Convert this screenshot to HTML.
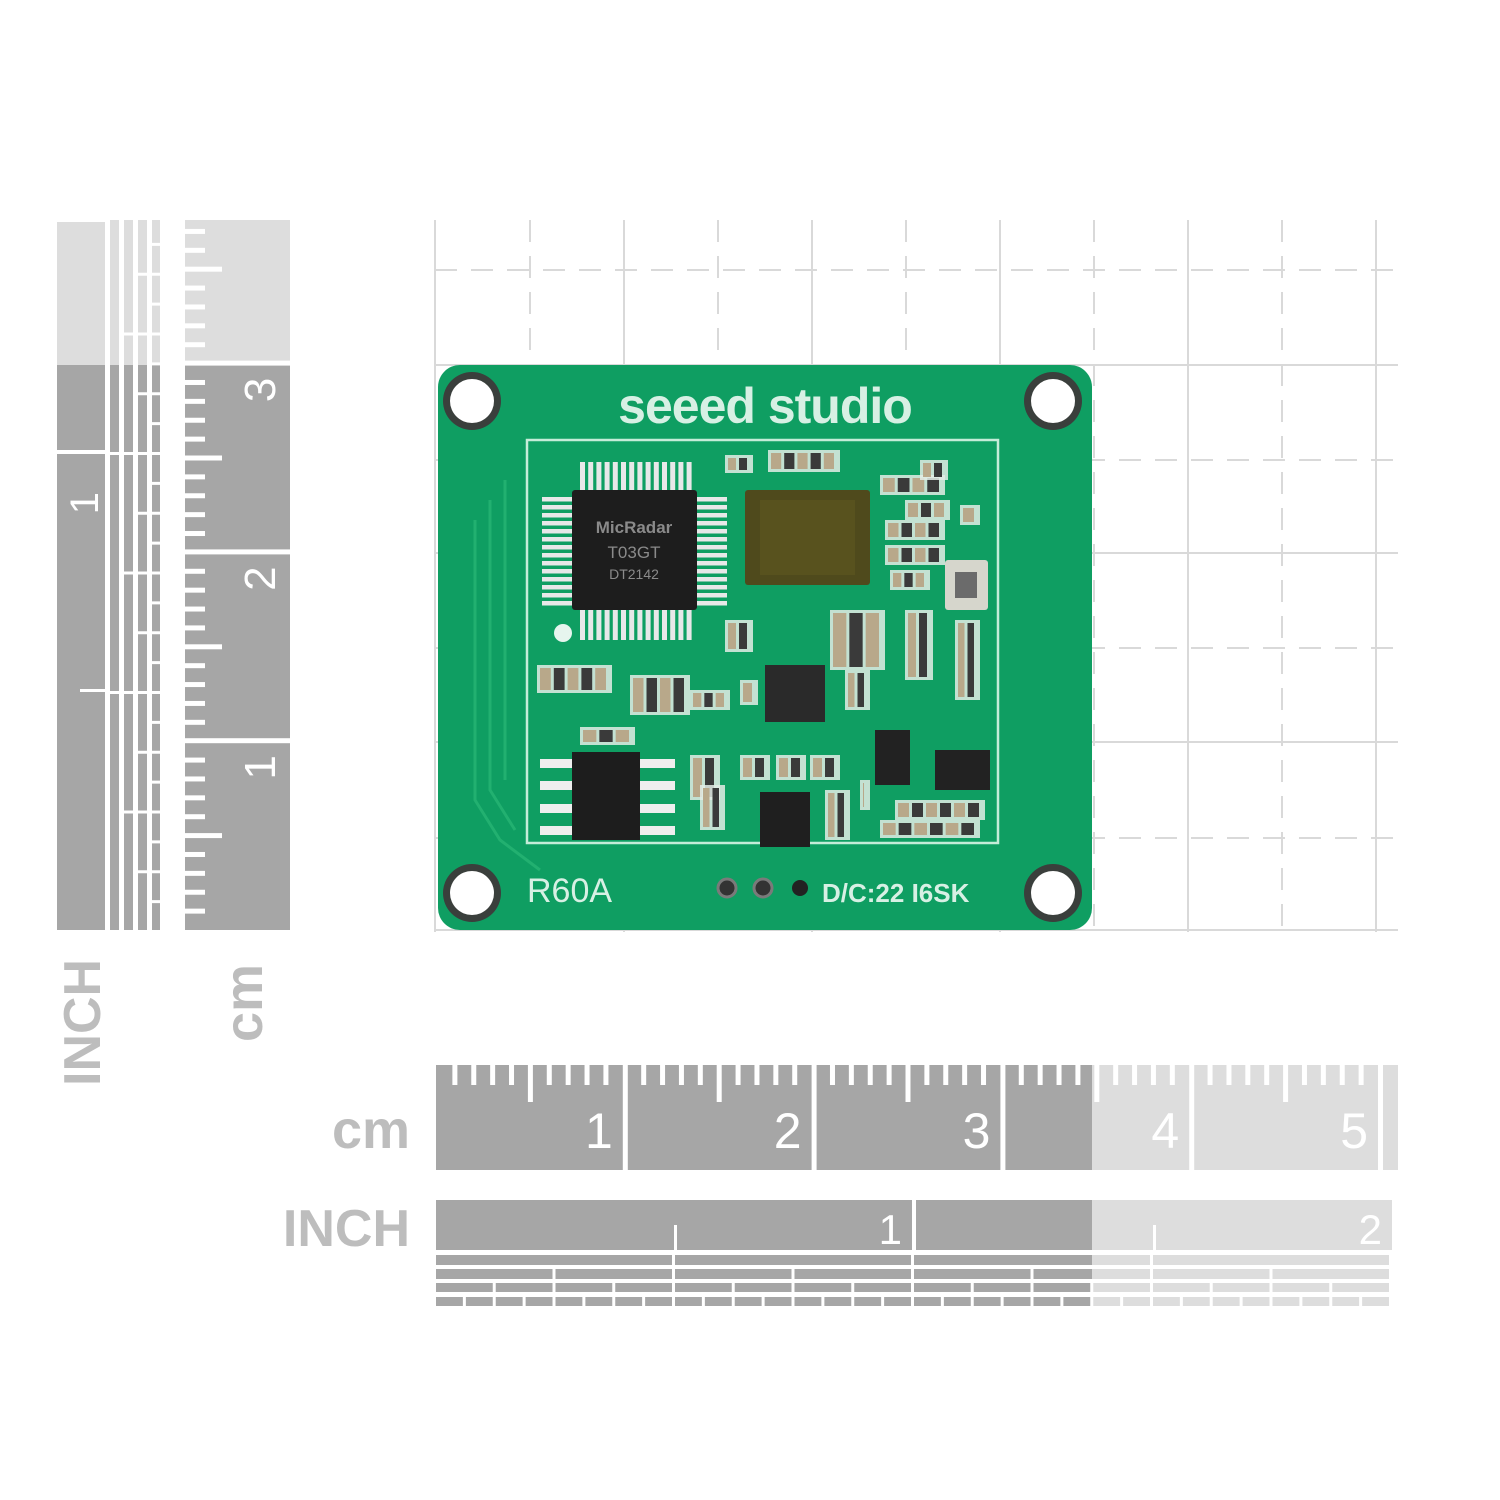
<!DOCTYPE html>
<html><head><meta charset="utf-8"><style>
html,body{margin:0;padding:0;background:#fff}
svg{display:block}
text{font-family:"Liberation Sans","DejaVu Sans",sans-serif}
</style></head><body>
<svg id="s" width="1500" height="1500" viewBox="0 0 1500 1500" xmlns="http://www.w3.org/2000/svg">
<rect width="1500" height="1500" fill="#fff"/>
<g id="grid" stroke="#d9d9d9" stroke-width="2"></g>
<g id="rul"></g>
<text x="410" y="1148" font-size="54" font-weight="bold" fill="#bdbdbd" text-anchor="end">cm</text>
<text x="410" y="1246" font-size="52" font-weight="bold" fill="#bdbdbd" text-anchor="end">INCH</text>
<text transform="translate(100,1086) rotate(-90)" font-size="52" font-weight="bold" fill="#bdbdbd">INCH</text>
<text transform="translate(262,1042) rotate(-90)" font-size="54" font-weight="bold" fill="#bdbdbd">cm</text>
<g id="pcb">
<rect x="438" y="365" width="654" height="565" rx="22" fill="#0f9e62"/>
<path d="M475 520 L475 800 L500 840 L540 870 M490 500 L490 790 L515 830 M505 480 L505 780" stroke="#22b070" stroke-width="3" fill="none"/>
<rect x="527" y="440" width="471" height="403" fill="none" stroke="#c5ecd8" stroke-width="2.5"/>
<text x="765" y="423" font-size="50" font-weight="bold" fill="#d7f0e4" text-anchor="middle" letter-spacing="-1">seeed studio</text>
<g id="holes"></g>
<g id="qfp"></g>
<rect x="572" y="490" width="125" height="120" fill="#1d1d1d" rx="3"/>
<text x="634" y="533" font-size="17" font-weight="bold" fill="#8a8a8a" text-anchor="middle">MicRadar</text>
<text x="634" y="558" font-size="17" fill="#8a8a8a" text-anchor="middle">T03GT</text>
<text x="634" y="579" font-size="14" fill="#8a8a8a" text-anchor="middle">DT2142</text>
<circle cx="563" cy="633" r="9" fill="#e6f5ee"/>
<rect x="745" y="490" width="125" height="95" fill="#4f4a1c" rx="3"/>
<rect x="760" y="500" width="95" height="75" fill="#5d5520" opacity="0.7"/>
<rect x="765" y="665" width="60" height="57" fill="#2a2a2a"/>
<rect x="945" y="560" width="43" height="50" fill="#d6d6cc" rx="3"/>
<rect x="955" y="572" width="22" height="26" fill="#6b6b6b"/>
<g fill="#eee"><rect x="540" y="759" width="35" height="9"/><rect x="540" y="781" width="35" height="9"/><rect x="540" y="804" width="35" height="9"/><rect x="540" y="826" width="35" height="9"/>
<rect x="638" y="759" width="37" height="9"/><rect x="638" y="781" width="37" height="9"/><rect x="638" y="804" width="37" height="9"/><rect x="638" y="826" width="37" height="9"/></g>
<rect x="572" y="752" width="68" height="88" fill="#1d1d1d"/>
<rect x="760" y="792" width="50" height="55" fill="#1f1f1f"/>
<rect x="875" y="730" width="35" height="55" fill="#222"/>
<rect x="935" y="750" width="55" height="40" fill="#222"/>
<g id="smd"></g>
<text x="527" y="902" font-size="34" fill="#d7f0e4">R60A</text>
<text x="822" y="902" font-size="26" font-weight="bold" fill="#d7f0e4">D/C:22 I6SK</text>
<circle cx="727" cy="888" r="9" fill="#333" stroke="#7a7a7a" stroke-width="3"/>
<circle cx="763" cy="888" r="9" fill="#333" stroke="#7a7a7a" stroke-width="3"/>
<circle cx="800" cy="888" r="8" fill="#222"/>
</g>
</svg>
<script>
var NS="http://www.w3.org/2000/svg";
function el(p,t,a){var e=document.createElementNS(NS,t);for(var k in a)e.setAttribute(k,a[k]);p.appendChild(e);return e;}
var g=document.getElementById('grid'),r=document.getElementById('rul');
[435,624,812,1000,1188,1376].forEach(function(x){el(g,'line',{x1:x,y1:220,x2:x,y2:932});});
[365,553,742,930].forEach(function(y){el(g,'line',{x1:435,y1:y,x2:1398,y2:y});});
[530,718,906,1094,1282].forEach(function(x){el(g,'line',{x1:x,y1:220,x2:x,y2:932,'stroke-dasharray':'22 14'});});
[270,460,648,838].forEach(function(y){el(g,'line',{x1:435,y1:y,x2:1398,y2:y,'stroke-dasharray':'22 14'});});
var D="#a6a6a6",L="#dddddd",CM=188.8,IN=478;
for(var i=0;i<6;i++){var x0=436+i*CM+(i?3:0),x1=Math.min(436+(i+1)*CM-2,1398);
 if(x0>=1398)break;
 if(x1<=1092){el(r,'rect',{x:x0,y:1065,width:x1-x0,height:105,fill:D});}
 else if(x0>=1092){el(r,'rect',{x:x0,y:1065,width:x1-x0,height:105,fill:L});}
 else{el(r,'rect',{x:x0,y:1065,width:1092-x0,height:105,fill:D});el(r,'rect',{x:1092,y:1065,width:x1-1092,height:105,fill:L});}
 if(i<5){var t=el(r,'text',{x:436+(i+1)*CM-12,y:1148,'font-size':50,fill:'#fff','text-anchor':'end'});t.textContent=i+1;}
}
for(var m=1;m<51;m++){if(m%10==0)continue;var x=436+m*CM/10;if(x>1396)break;el(r,'rect',{x:x-2.5,y:1065,width:5,height:m%5==0?37:20,fill:'#fff'});}
function seg(x0,x1,y,h){if(x1<=1092)el(r,'rect',{x:x0,y:y,width:x1-x0,height:h,fill:D});else if(x0>=1092)el(r,'rect',{x:x0,y:y,width:x1-x0,height:h,fill:L});else{el(r,'rect',{x:x0,y:y,width:1092-x0,height:h,fill:D});el(r,'rect',{x:1092,y:y,width:x1-1092,height:h,fill:L});}}
seg(436,912,1200,50);seg(916,1392,1200,50);
el(r,'rect',{x:674,y:1225,width:3,height:25,fill:'#fff'});el(r,'rect',{x:1153,y:1225,width:3,height:25,fill:'#fff'});
var t=el(r,'text',{x:902,y:1244,'font-size':42,fill:'#fff','text-anchor':'end'});t.textContent='1';
t=el(r,'text',{x:1382,y:1244,'font-size':42,fill:'#fff','text-anchor':'end'});t.textContent='2';
[[2,1255,10],[4,1269,10],[8,1283,9],[16,1297,9]].forEach(function(a){var w=IN/a[0];for(var k=0;k<a[0]*2;k++){var x0=436+k*w,x1=Math.min(x0+w-3,1398);if(x0>1396)break;seg(x0,x1,a[1],a[2]);}});
function vseg(x,y0,y1,w){if(y0>=365)el(r,'rect',{x:x,y:y0,width:w,height:y1-y0,fill:D});else if(y1<=365)el(r,'rect',{x:x,y:y0,width:w,height:y1-y0,fill:L});else{el(r,'rect',{x:x,y:y0,width:w,height:365-y0,fill:L});el(r,'rect',{x:x,y:365,width:w,height:y1-365,fill:D});}}
for(var i=0;i<4;i++){var yb=930-i*CM-(i?3:0),yt=Math.max(930-(i+1)*CM+2,220);vseg(185,yt,yb,105);
 if(i<3){t=el(r,'text',{transform:'translate(275,'+(930-(i+1)*CM+14)+') rotate(-90)','font-size':44,fill:'#fff','text-anchor':'end'});t.textContent=i+1;}}
for(var m=1;m<38;m++){if(m%10==0)continue;var y=930-m*CM/10;if(y<224)break;el(r,'rect',{x:185,y:y-2.5,width:m%5==0?37:20,height:5,fill:'#fff'});}
vseg(57,222,450,48);vseg(57,454,930,48);
el(r,'rect',{x:80,y:689,width:25,height:3,fill:'#fff'});
t=el(r,'text',{transform:'translate(98,492) rotate(-90)','font-size':40,fill:'#fff','text-anchor':'end'});t.textContent='1';
[[2,110,9],[4,124,9],[8,138,9],[16,152,8]].forEach(function(a){var w=IN/a[0];for(var k=0;k<a[0]*2;k++){var yb=930-k*w,yt=Math.max(yb-w+3,220);if(yb<222)break;vseg(a[1],yt,yb,a[2]);}});
var h=document.getElementById('holes');
[[472,401],[1053,401],[472,893],[1053,893]].forEach(function(c){el(h,'circle',{cx:c[0],cy:c[1],r:29,fill:'#3a3f3c'});el(h,'circle',{cx:c[0],cy:c[1],r:22,fill:'#fff'});});
var q=document.getElementById('qfp');
for(var k=0;k<14;k++){var x=580+k*8.2;el(q,'rect',{x:x,y:462,width:5,height:30,fill:'#e8e8e8'});el(q,'rect',{x:x,y:608,width:5,height:32,fill:'#e8e8e8'});
 var y=497+k*8;el(q,'rect',{x:542,y:y,width:32,height:4.5,fill:'#e8e8e8'});el(q,'rect',{x:695,y:y,width:32,height:4.5,fill:'#e8e8e8'});}
var s=document.getElementById('smd');
var parts=[[725,455,28,18],[768,450,72,22],[880,475,65,20],[885,520,60,20],[885,545,60,20],[890,570,40,20],[905,500,45,20],[830,610,55,60],[905,610,28,70],[955,620,25,80],[725,620,28,32],[537,665,75,28],[630,675,60,40],[690,690,40,20],[740,680,18,25],[845,670,25,40],[580,727,55,18],[690,755,30,45],[700,785,25,45],[740,755,30,25],[776,755,30,25],[810,755,30,25],[825,790,25,50],[860,780,10,30],[895,800,90,20],[880,820,100,18],[920,460,28,20],[960,505,20,20]];
parts.forEach(function(p){el(s,'rect',{x:p[0],y:p[1],width:p[2],height:p[3],fill:'#e3ece6',opacity:0.85});
 var n=Math.max(1,Math.round(p[2]/16));for(var k=0;k<n;k++){el(s,'rect',{x:p[0]+3+k*(p[2]-6)/n,y:p[1]+3,width:(p[2]-6)/n-3,height:p[3]-6,fill:k%2?'#3a3a3a':'#b8a88a'});}});
</script>
</body></html>
